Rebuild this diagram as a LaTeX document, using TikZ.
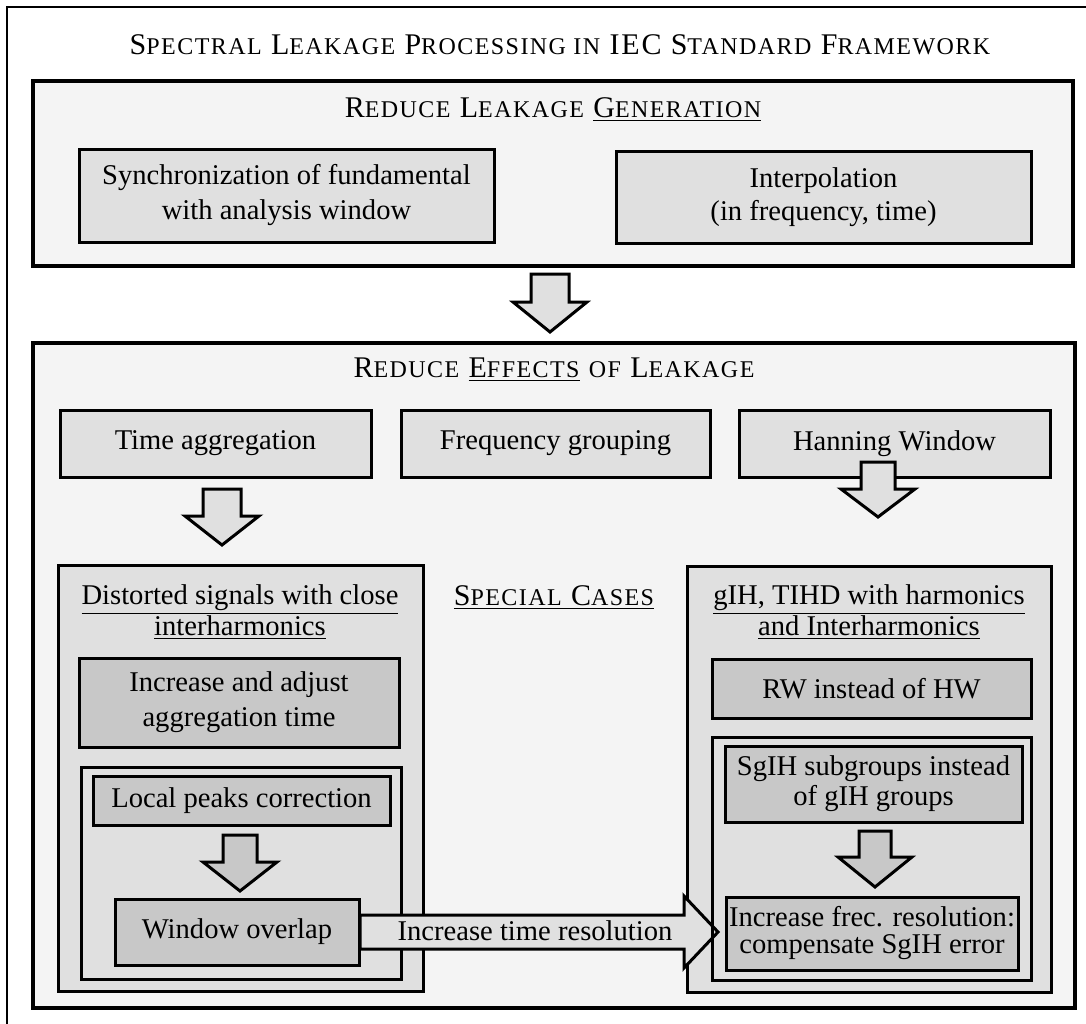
\documentclass[tikz,border=0pt]{standalone}
\usepackage{fontspec}
\setmainfont{Liberation Serif}
\newfontfamily\hdfont[LetterSpace=6]{Liberation Serif}
\definecolor{bgA}{HTML}{F4F4F4}
\definecolor{bgB}{HTML}{E0E0E0}
\definecolor{bgC}{HTML}{C8C8C8}
\newcommand\bodyfont{\fontsize{14.3}{17.5}\selectfont}
\newcommand\headfont{\hdfont\fontsize{15}{18}\selectfont}
\newcommand\sC[1]{{\fontsize{12}{14}\selectfont #1}}
% box: name, x1, y1, x2, y2, style, text
\newcommand\bx[7]{\node[#6, minimum width={(#4-#2)*0.5pt}, minimum height={(#5-#3)*0.5pt}] (#1) at ({(#2+#4)/2},{(#3+#5)/2}) {#7};}
% down block arrow: cx, shaft half width, head half width, top, head y, tip y, style
\newcommand\dnarrow[7]{\draw[#7] ({#1-#2},#4) -- ({#1+#2},#4) -- ({#1+#2},#5) -- ({#1+#3},#5) -- (#1,#6) -- ({#1-#3},#5) -- ({#1-#2},#5) -- cycle;}
\tikzset{
  frame/.style={draw, line width=1.7pt, fill=bgA, inner sep=0pt, outer sep=0pt},
  leaf/.style={draw, line width=1.5pt, fill=bgB, inner sep=0pt, outer sep=0pt, align=center, font=\bodyfont},
  leafd/.style={leaf, fill=bgC},
  spec/.style={draw, line width=1.5pt, fill=bgB, inner sep=0pt, outer sep=0pt},
  lbl/.style={inner sep=0pt, align=center, font=\bodyfont},
  hlbl/.style={inner sep=0pt, align=center, font=\headfont},
  barrow/.style={draw, line width=1.5pt, fill=bgB, line join=miter},
  barrowd/.style={barrow, fill=bgC},
}
\begin{document}
\begin{tikzpicture}[x=0.5pt,y=-0.5pt]
\useasboundingbox (0,0) rectangle (1086,1023);
\draw[line width=1pt] (1100,7) -- (7,7) -- (7,1040);
\node[hlbl] (title) at (560,45) {S\sC{PECTRAL} L\sC{EAKAGE} P\sC{ROCESSING IN} IEC S\sC{TANDARD} F\sC{RAMEWORK}};

% Reduce leakage generation
\bx{gen}{33}{81}{1073}{266}{frame}{}
\node[hlbl] (genlbl) at (553,110) {R\sC{EDUCE} L\sC{EAKAGE} \underline{G\sC{ENERATION}}};
\bx{sync}{79}{149}{494}{242}{leaf}{Synchronization of fundamental\\with analysis window}
\bx{interp}{616}{151}{1031}{243}{leaf}{Interpolation\\[-1pt](in frequency, time)}

\dnarrow{550}{19}{37}{274}{302}{332}{barrow}

% Reduce effects of leakage
\bx{eff}{33}{343}{1075}{1008}{frame}{}
\node[hlbl] (efflbl) at (554,370) {R\sC{EDUCE} \underline{E\sC{FFECTS}} \sC{OF} L\sC{EAKAGE}};
\bx{ta}{60}{410}{371}{477}{leaf}{Time aggregation}
\bx{fg}{401}{410}{710}{477}{leaf}{Frequency grouping}
\bx{hw}{739}{410}{1050}{477}{leaf}{Hanning Window}
\dnarrow{222}{19}{37}{489}{516}{545}{barrow}
\dnarrow{878}{17}{37}{462}{489}{517}{barrow}

% Special cases
\node[hlbl] (spc) at (554,598) {\underline{S\sC{PECIAL} C\sC{ASES}}};
\bx{spL}{58}{565}{423}{991}{spec}{}
\node[lbl] (spLlbl) at (240,612) {\underline{Distorted signals with close}\\[-2pt]\underline{interharmonics}};
\bx{spR}{687}{566}{1051}{992}{spec}{}
\node[lbl] (spRlbl) at (869,612) {\underline{gIH, TIHD with harmonics}\\[-2pt]\underline{and Interharmonics}};

\bx{incadj}{79}{658}{399}{747}{leafd}{Increase and adjust\\aggregation time}
\bx{innerL}{81}{767}{401}{979}{spec}{}
\bx{local}{93}{776}{390}{825}{leafd}{Local peaks correction}
\dnarrow{240}{17}{37}{835}{862}{891}{barrowd}
\bx{wov}{115}{899}{359}{965}{leafd}{Window overlap}

\bx{rw}{712}{659}{1031}{718}{leafd}{RW instead of HW}
\bx{innerR}{712}{737}{1031}{980}{spec}{}
\bx{sgih}{725}{746}{1022}{822}{leafd}{SgIH subgroups instead\\[-2.5pt]of gIH groups}
\dnarrow{875}{16}{37}{831}{857}{887}{barrowd}
\bx{frec}{726}{897}{1018}{970}{leafd}{Increase frec. resolution:\\[-4pt]compensate SgIH error}

% horizontal block arrow
\coordinate (hstart) at (wov.east);
\draw[barrow] (360,915) -- (684,915) -- (684,896) -- (718,932) -- (684,968) -- (684,949) -- (360,949) -- cycle;
\draw[line width=1.5pt] (innerR.north west) -- (innerR.south west);
\node[lbl] (hlabel) at (535,931) {Increase time resolution};
\end{tikzpicture}
\end{document}
